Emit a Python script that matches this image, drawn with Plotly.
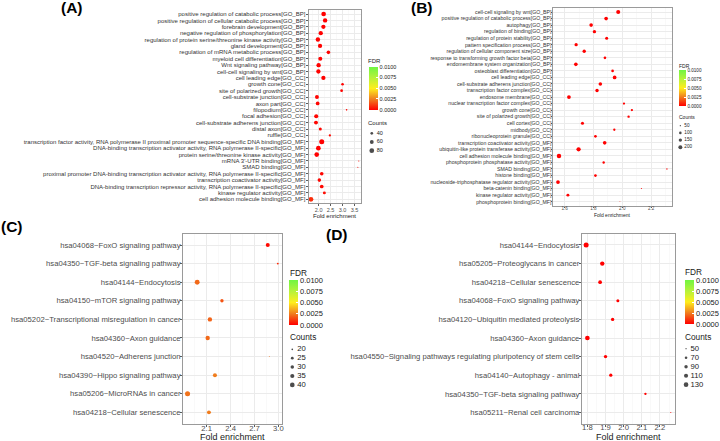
import numpy as np
import plotly.graph_objects as go

W, H = 720, 441

# ---------------- data ----------------
A_terms = [
    "positive regulation of catabolic process",
    "positive regulation of cellular catabolic process",
    "forebrain development",
    "negative regulation of phosphorylation",
    "regulation of protein serine/threonine kinase activity",
    "gland development",
    "regulation of mRNA metabolic process",
    "myeloid cell differentiation",
    "Wnt signaling pathway",
    "cell-cell signaling by wnt",
    "cell leading edge",
    "growth cone",
    "site of polarized growth",
    "cell-substrate junction",
    "axon part",
    "filopodium",
    "focal adhesion",
    "cell-substrate adherens junction",
    "distal axon",
    "ruffle",
    "transcription factor activity, RNA polymerase II proximal promoter sequence-specific DNA binding",
    "DNA-binding transcription activator activity, RNA polymerase II-specific",
    "protein serine/threonine kinase activity",
    "mRNA 3'-UTR binding",
    "SMAD binding",
    "proximal promoter DNA-binding transcription activator activity, RNA polymerase II-specific",
    "transcription coactivator activity",
    "DNA-binding transcription repressor activity, RNA polymerase II-specific",
    "kinase regulator activity",
    "cell adhesion molecule binding",
]
A_ontology = ["GO_BP", "GO_BP", "GO_BP", "GO_BP", "GO_BP", "GO_BP", "GO_BP", "GO_BP", "GO_BP", "GO_BP",
              "GO_CC", "GO_CC", "GO_CC", "GO_CC", "GO_CC", "GO_CC", "GO_CC", "GO_CC", "GO_CC", "GO_CC",
              "GO_MF", "GO_MF", "GO_MF", "GO_MF", "GO_MF", "GO_MF", "GO_MF", "GO_MF", "GO_MF", "GO_MF"]
A_fold = [2.21, 2.27, 2.20, 2.09, 1.97, 2.06, 2.41, 2.07, 2.00, 1.99,
          2.20, 3.00, 2.96, 1.93, 1.96, 3.17, 1.90, 1.89, 2.07, 2.47,
          2.13, 1.99, 1.92, 3.68, 3.64, 2.13, 2.03, 2.13, 2.24, 1.68]
A_count = [78, 72, 70, 69, 73, 68, 55, 64, 71, 70,
           69, 38, 40, 62, 57, 27, 65, 62, 45, 34,
           88, 80, 78, 23, 23, 56, 54, 57, 44, 80]
A_fdr = [2e-6, 3e-6, 1e-5, 2e-5, 4e-5, 3e-5, 5e-5, 6e-5, 2e-5, 3e-5,
         1e-5, 4e-5, 5e-5, 6e-5, 8e-5, 9e-5, 1e-4, 1.2e-4, 1.5e-4, 1.8e-4,
         1e-6, 5e-6, 8e-6, 2e-4, 2.2e-4, 1.2e-4, 1.5e-4, 1.6e-4, 2.5e-4, 9e-4]

B_terms = [
    "cell-cell signaling by wnt",
    "positive regulation of catabolic process",
    "autophagy",
    "regulation of binding",
    "regulation of protein stability",
    "pattern specification process",
    "regulation of cellular component size",
    "response to transforming growth factor beta",
    "endomembrane system organization",
    "osteoblast differentiation",
    "cell leading edge",
    "cell-substrate adherens junction",
    "transcription factor complex",
    "endosome membrane",
    "nuclear transcription factor complex",
    "growth cone",
    "site of polarized growth",
    "cell cortex",
    "midbody",
    "ribonucleoprotein granule",
    "transcription coactivator activity",
    "ubiquitin-like protein transferase activity",
    "cell adhesion molecule binding",
    "phosphoprotein phosphatase activity",
    "SMAD binding",
    "histone binding",
    "nucleoside-triphosphatase regulator activity",
    "beta-catenin binding",
    "kinase regulator activity",
    "phosphoprotein binding",
]
B_ontology = ["GO_BP", "GO_BP", "GO_BP", "GO_BP", "GO_BP", "GO_BP", "GO_BP", "GO_BP", "GO_BP", "GO_BP",
              "GO_CC", "GO_CC", "GO_CC", "GO_CC", "GO_CC", "GO_CC", "GO_CC", "GO_CC", "GO_CC", "GO_CC",
              "GO_MF", "GO_MF", "GO_MF", "GO_MF", "GO_MF", "GO_MF", "GO_MF", "GO_MF", "GO_MF", "GO_MF"]
B_fold = [1.972, 1.888, 1.784, 1.807, 1.892, 1.680, 1.736, 1.880, 1.678, 1.933,
          1.947, 1.848, 1.825, 1.630, 2.012, 2.067, 2.044, 1.724, 1.945, 1.814,
          1.878, 1.697, 1.561, 1.871, 2.310, 1.814, 1.554, 2.133, 1.623, 1.984]
B_count = [205, 173, 170, 148, 126, 145, 150, 106, 173, 104,
           176, 168, 150, 180, 88, 86, 90, 128, 88, 108,
           172, 225, 240, 92, 50, 110, 178, 42, 124, 36]
B_fdr = [1e-9, 1e-8, 2e-8, 5e-8, 1e-7, 2e-7, 3e-7, 5e-7, 4e-7, 6e-7,
         1e-8, 2e-8, 3e-8, 4e-8, 5e-7, 6e-7, 7e-7, 8e-7, 9e-7, 1e-6,
         1e-8, 1e-9, 1e-10, 1e-6, 2e-6, 1.5e-6, 1e-9, 3e-6, 2e-6, 4e-6]

C_terms = [
    "hsa04068~FoxO signaling pathway",
    "hsa04350~TGF-beta signaling pathway",
    "hsa04144~Endocytosis",
    "hsa04150~mTOR signaling pathway",
    "hsa05202~Transcriptional misregulation in cancer",
    "hsa04360~Axon guidance",
    "hsa04520~Adherens junction",
    "hsa04390~Hippo signaling pathway",
    "hsa05206~MicroRNAs in cancer",
    "hsa04218~Cellular senescence",
]
C_fold = [2.866, 2.992, 1.982, 2.292, 2.141, 2.113, 2.886, 2.204, 1.861, 2.129]
C_count = [34, 21, 42, 29, 37, 37, 18, 34, 44, 33]
C_fdr = [0.0002, 0.0009, 0.0021, 0.0017, 0.0020, 0.0021, 0.0023, 0.0025, 0.0023, 0.0025]

D_terms = [
    "hsa04144~Endocytosis",
    "hsa05205~Proteoglycans in cancer",
    "hsa04218~Cellular senescence",
    "hsa04068~FoxO signaling pathway",
    "hsa04120~Ubiquitin mediated proteolysis",
    "hsa04360~Axon guidance",
    "hsa04550~Signaling pathways regulating pluripotency of stem cells",
    "hsa04140~Autophagy - animal",
    "hsa04350~TGF-beta signaling pathway",
    "hsa05211~Renal cell carcinoma",
]
D_fold = [1.793, 1.882, 1.870, 1.968, 1.939, 1.800, 1.900, 1.929, 2.120, 2.260]
D_count = [143, 118, 97, 79, 87, 130, 88, 85, 65, 47]
D_fdr = [1e-12, 1e-10, 1e-8, 1e-7, 1e-7, 1e-9, 1e-7, 1e-6, 1e-5, 5e-5]

FDR_breaks = [0.0, 0.0025, 0.005, 0.0075, 0.01]
A_count_breaks = [40, 60, 80]
B_count_breaks = [50, 100, 150, 200]
C_count_breaks = [20, 25, 30, 35, 40]
D_count_breaks = [50, 70, 90, 110, 130]

A_labels = [f"{t}[{o}]" for t, o in zip(A_terms, A_ontology)]
B_labels = [f"{t}[{o}]" for t, o in zip(B_terms, B_ontology)]

# ---------------- styles ----------------
FONT = "Liberation Sans, Arial, Helvetica, sans-serif"
COLORSCALE = [[0.0, "#ff0000"], [0.25, "#f07d1e"], [0.5, "#ffee1c"],
              [0.75, "#b6f23a"], [1.0, "#70f542"]]

panels = [
    dict(tag="(A)", tag_xy=(72, 8), labels=A_labels, fold=A_fold, count=A_count, fdr=A_fdr,
         breaks=A_count_breaks, box=(309, 10.2, 361.7, 203.1), ylab_font=6, tick_font=5.5,
         title_font=6, title_y=215.5, tick0=0, dtick=0.5, fmt=".1f", k=0.37, lo=20,
         xstand=-1, ystand=-1, ticklen=2,
         cbar=(368.7, 66.7, 43.3, 8.6), cbar_font=5.5, fdr_xy=(367, 61), head_font=6,
         leg=(372.3, 133.3, 8.7), leg_off=5, leg_font=5.5, counts_xy=(367, 122.7),
         ylab_color="#333333"),
    dict(tag="(B)", tag_xy=(423, 7.5), labels=B_labels, fold=B_fold, count=B_count, fdr=B_fdr,
         breaks=B_count_breaks, box=(553.3, 8.1, 673.3, 205.6), ylab_font=5.2, tick_font=4.6,
         title_font=5, title_y=215, tick0=0, dtick=0.2, fmt=".1f", k=0.0948, lo=31,
         xstand=-3, ystand=-2, ticklen=1,
         cbar=(679.3, 70, 36, 7.3), cbar_font=4.6, fdr_xy=(678.3, 65.7), head_font=5,
         leg=(681.3, 125.7, 7.2), leg_off=4, leg_font=4.6, counts_xy=(678.3, 116.7),
         ylab_color="#333333"),
    dict(tag="(C)", tag_xy=(12, 226), labels=C_terms, fold=C_fold, count=C_count, fdr=C_fdr,
         breaks=C_count_breaks, box=(183.3, 233.85, 282.7, 423.5), ylab_font=7.7, tick_font=7.7,
         title_font=9, title_y=436.5, tick0=2.1, dtick=0.3, fmt=".1f", k=0.95, lo=17,
         xstand=-5, ystand=-2, ticklen=2,
         cbar=(289.3, 280, 45, 9), cbar_font=7.5, fdr_xy=(288.3, 272.7), head_font=8.3,
         leg=(292.7, 349.3, 8.9), leg_off=5, leg_font=7.7, counts_xy=(288.5, 336.7),
         ylab_color="#4d4d4d"),
    dict(tag="(D)", tag_xy=(337.5, 234), labels=D_terms, fold=D_fold, count=D_count, fdr=D_fdr,
         breaks=D_count_breaks, box=(582.7, 233.8, 676, 423.6), ylab_font=7.7, tick_font=7.7,
         title_font=9, title_y=436.5, tick0=0, dtick=0.1, fmt=".1f", k=0.25, lo=43,
         xstand=-6, ystand=-2, ticklen=2,
         cbar=(684.7, 280, 44, 8.6), cbar_font=7.5, fdr_xy=(684, 272.3), head_font=8.3,
         leg=(687, 348.7, 9.0), leg_off=4.5, leg_font=7.7, counts_xy=(683.5, 337),
         ylab_color="#4d4d4d"),
]


def diam(v, k, lo):
    v = np.asarray(v, dtype=float)
    return np.sqrt(np.clip(k * (v - lo), 0.6, None))


fig = go.Figure()
layout = dict(width=W, height=H, margin=dict(l=0, r=0, t=0, b=0),
              paper_bgcolor="white", plot_bgcolor="rgba(0,0,0,0)", showlegend=False,
              font=dict(family=FONT, color="#1a1a1a"), annotations=[])

for i, p in enumerate(panels):
    n = i + 1
    sfx = "" if n == 1 else str(n)
    ca = "coloraxis" + sfx
    l, t, r, b = p["box"]
    fig.add_trace(go.Scatter(
        x=p["fold"], y=p["labels"], mode="markers",
        xaxis="x" + sfx, yaxis="y" + sfx,
        marker=dict(size=diam(p["count"], p["k"], p["lo"]), color=p["fdr"],
                    coloraxis=ca, line=dict(width=0), opacity=1),
        hoverinfo="skip"))
    fmin, fmax = min(p["fold"]), max(p["fold"])
    span = fmax - fmin
    nrow = len(p["labels"])
    layout["xaxis" + sfx] = dict(
        domain=[l / W, r / W], anchor="y" + sfx, range=[fmin - 0.05 * span, fmax + 0.05 * span],
        tick0=p["tick0"], dtick=p["dtick"], tickformat=p["fmt"], tickangle=0,
        showline=True, mirror=True, linecolor="#9a9a9a", linewidth=1,
        showgrid=True, gridcolor="#ebebeb", gridwidth=1,
        minor=dict(tick0=p["tick0"], dtick=p["dtick"] / 2, showgrid=True,
                   gridcolor="#f5f5f5", gridwidth=0.6),
        ticks="outside", ticklen=p["ticklen"], tickcolor="#333333", tickwidth=0.8,
        ticklabelstandoff=p["xstand"],
        tickfont=dict(size=p["tick_font"], color="#4d4d4d", family=FONT),
        zeroline=False, fixedrange=True)
    layout["yaxis" + sfx] = dict(
        domain=[1 - b / H, 1 - t / H], anchor="x" + sfx, type="category",
        categoryorder="array", categoryarray=p["labels"],
        range=[nrow - 1 + 0.6, -0.6], tickmode="linear", tick0=0, dtick=1, tickangle=0,
        showline=True, mirror=True, linecolor="#9a9a9a", linewidth=1,
        showgrid=True, gridcolor="#ebebeb", gridwidth=1,
        ticks="outside", ticklen=p["ticklen"], tickcolor="#333333", tickwidth=0.8,
        ticklabelstandoff=p["ystand"],
        tickfont=dict(size=p["ylab_font"], color=p["ylab_color"], family=FONT),
        zeroline=False, fixedrange=True)
    layout["annotations"].append(dict(
        text="Fold enrichment", x=(l + r) / 2 / W, y=1 - p["title_y"] / H, xref="paper",
        yref="paper", xanchor="center", yanchor="middle", showarrow=False,
        font=dict(size=p["title_font"], color="#1a1a1a", family=FONT)))
    cl, ct, clen, cth = p["cbar"]
    layout[ca] = dict(
        cmin=0, cmax=0.01, colorscale=COLORSCALE,
        colorbar=dict(x=cl / W, xanchor="left", xpad=0, y=1 - ct / H, yanchor="top", ypad=0,
                      len=clen, lenmode="pixels", thickness=cth, thicknessmode="pixels",
                      outlinewidth=0, tickvals=FDR_breaks,
                      ticktext=[f"{v:.4f}" for v in FDR_breaks],
                      ticks="inside", ticklen=2, tickcolor="white",
                      tickfont=dict(size=p["cbar_font"], color="#1a1a1a", family=FONT)))
    layout["annotations"].append(dict(
        text="FDR", x=p["fdr_xy"][0] / W, y=1 - p["fdr_xy"][1] / H, xref="paper", yref="paper",
        xanchor="left", yanchor="middle", showarrow=False,
        font=dict(size=p["head_font"], color="#1a1a1a", family=FONT)))
    layout["annotations"].append(dict(
        text="Counts", x=p["counts_xy"][0] / W, y=1 - p["counts_xy"][1] / H, xref="paper",
        yref="paper", xanchor="left", yanchor="middle", showarrow=False,
        font=dict(size=p["head_font"], color="#1a1a1a", family=FONT)))
    layout["annotations"].append(dict(
        text="<b>" + p["tag"] + "</b>", x=p["tag_xy"][0] / W, y=1 - p["tag_xy"][1] / H,
        xref="paper", yref="paper", xanchor="center", yanchor="middle", showarrow=False,
        font=dict(size=15.5, color="#000000", family=FONT)))
    lsfx = str(n + 4)
    dx, y0, sp = p["leg"]
    nb = len(p["breaks"])
    top = y0 - sp / 2
    bot = y0 + (nb - 0.5) * sp
    layout["xaxis" + lsfx] = dict(domain=[(dx - 6) / W, min((dx + 30) / W, 1.0)],
                                  range=[-6, 30 if (dx + 30) <= W else W - dx],
                                  anchor="y" + lsfx, visible=False, fixedrange=True)
    layout["yaxis" + lsfx] = dict(domain=[1 - bot / H, 1 - top / H], range=[nb - 0.5, -0.5],
                                  anchor="x" + lsfx, visible=False, fixedrange=True)
    idx = list(range(nb))
    fig.add_trace(go.Scatter(
        x=[0] * nb, y=idx, mode="markers", xaxis="x" + lsfx, yaxis="y" + lsfx,
        marker=dict(size=diam(p["breaks"], p["k"], p["lo"]), color="black", line=dict(width=0)),
        hoverinfo="skip", cliponaxis=False))
    fig.add_trace(go.Scatter(
        x=[p["leg_off"]] * nb, y=idx, mode="text", xaxis="x" + lsfx, yaxis="y" + lsfx,
        text=[str(v) for v in p["breaks"]], textposition="middle right",
        textfont=dict(size=p["leg_font"], color="#1a1a1a", family=FONT),
        hoverinfo="skip", cliponaxis=False))

fig.update_layout(**layout)
fig.write_html("out.html", config={"displayModeBar": False, "staticPlot": True},
               post_script="document.body.style.margin='0';document.body.style.overflow='hidden';")
